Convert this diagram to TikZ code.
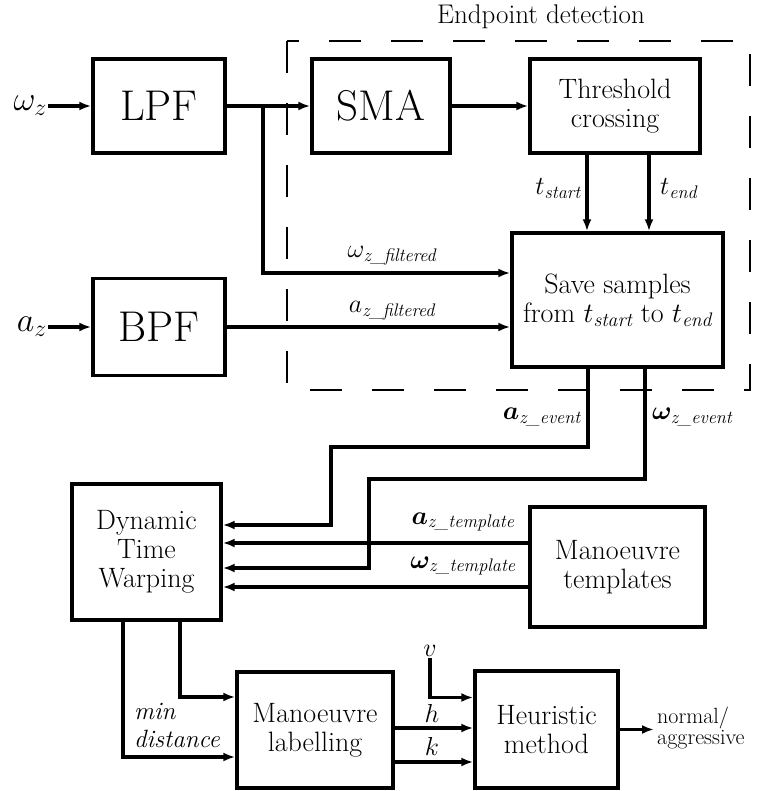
\RequirePackage{fix-cm}
\documentclass[tikz,border=0pt]{standalone}
\usepackage{amsmath}
\usepackage{bm}
\usetikzlibrary{arrows.meta}
\newcommand{\subtxt}[1]{\text{\itshape #1}}
\begin{document}
\begin{tikzpicture}[x=1pt,y=-1pt,
  box/.style={draw, line width=3.4pt, align=center, inner sep=0pt, font=\fontsize{28}{29}\selectfont},
  bigtext/.style={font=\fontsize{43}{46}\selectfont},
  arr/.style={line width=3.2pt, -{Latex[length=12pt,width=9pt]}},
  lbl/.style={font=\fontsize{26}{28}\selectfont, inner sep=1pt},
  inlbl/.style={font=\fontsize{34}{36}\selectfont, inner sep=1pt}]
\useasboundingbox (0,0) rectangle (758,791);

% dashed region
\draw[line width=2pt, dash pattern=on 32pt off 30pt] (287,41) rectangle (750,390);
\node[font=\fontsize{27}{29}\selectfont] (ep) at (541,17) {Endpoint detection};

% boxes
\node[box, bigtext, minimum width=132pt, minimum height=94pt] (LPF) at (159,106) {LPF};
\node[box, bigtext, minimum width=132pt, minimum height=97pt] (BPF) at (159,327) {BPF};
\node[box, bigtext, minimum width=138pt, minimum height=94pt] (SMA) at (381,106) {SMA};
\node[box, minimum width=170pt, minimum height=94pt] (Thr) at (615,106) {Threshold\\crossing};
\node[box, minimum width=211pt, minimum height=134pt] (Save) at (617.5,300) {Save samples\\from $t_{\subtxt{start}}$ to $t_{\subtxt{end}}$};
\node[box, minimum width=149pt, minimum height=136pt] (DTW) at (146.5,552) {Dynamic\\Time\\Warping};
\node[box, minimum width=175pt, minimum height=120pt] (Tmpl) at (617.5,567) {Manoeuvre\\templates};
\node[box, minimum width=156pt, minimum height=116pt] (Lab) at (315,730) {Manoeuvre\\labelling};
\node[box, minimum width=143pt, minimum height=117pt] (Heur) at (546.5,729.5) {Heuristic\\method};

% inputs
\coordinate (wzin) at (48,106);
\coordinate (azin) at (48,327);
\node[inlbl, anchor=east] (wzl) at (wzin) {$\omega_z$};
\node[inlbl, anchor=east] (azl) at (azin) {$a_z$};
\draw[arr] (wzin) -- (LPF.west);
\draw[arr] (azin) -- (BPF.west);

% top chain
\draw[arr] (LPF.east) -- (SMA.west);
\draw[arr] (SMA.east) -- (Thr.west);
\coordinate (br) at (263,106);
\draw[arr] (br) |- ([yshift=27pt]Save.west);
\draw[arr] (BPF.east) -- (BPF.east -| Save.west);
\node[lbl] (wfl) at (392,256) {$\omega_{\subtxt{z\_filtered}}$};
\node[lbl] (afl) at (392,311) {$a_{\subtxt{z\_filtered}}$};

% t_start / t_end
\draw[arr] ([xshift=-28pt]Thr.south) -- ([xshift=-28pt]Thr.south |- Save.north);
\draw[arr] ([xshift=34pt]Thr.south) -- ([xshift=34pt]Thr.south |- Save.north);
\node[lbl, anchor=east] (tsl) at (582,189) {$t_{\subtxt{start}}$};
\node[lbl, anchor=west] (tel) at (659,189) {$t_{\subtxt{end}}$};

% events to DTW
\coordinate (j1) at (331,447);
\coordinate (j2) at (369,479);
\draw[arr] ([xshift=-29.5pt]Save.south) |- (j1) |- ([yshift=27pt]DTW.east);
\draw[arr] ([xshift=27.5pt]Save.south) |- (j2) |- ([yshift=-16pt]DTW.east);
\node[lbl, anchor=east] (ael) at (582,417) {$\bm{a}_{\subtxt{z\_event}}$};
\node[lbl, anchor=west] (wel) at (651,417) {$\bm{\omega}_{\subtxt{z\_event}}$};

% templates to DTW
\draw[arr] ([yshift=24pt]Tmpl.west) -- ([yshift=24pt]Tmpl.west -| DTW.east);
\draw[arr] ([yshift=-20pt]Tmpl.west) -- ([yshift=-20pt]Tmpl.west -| DTW.east);
\node[lbl] (atl) at (463,522) {$\bm{a}_{\subtxt{z\_template}}$};
\node[lbl] (wtl) at (463,566) {$\bm{\omega}_{\subtxt{z\_template}}$};

% DTW to labelling
\draw[arr] ([xshift=33.5pt]DTW.south) |- ([yshift=33pt]Lab.west);
\draw[arr] ([xshift=-23.5pt]DTW.south) |- ([yshift=-27pt]Lab.west);
\node[lbl, anchor=west, align=left, font=\fontsize{25}{28}\selectfont\itshape] (mdl) at (133,725) {min\\distance};

% labelling to heuristic
\draw[arr] ([yshift=2pt]Lab.east) -- ([yshift=2pt]Lab.east -| Heur.west);
\draw[arr] ([yshift=-32pt]Lab.east) -- ([yshift=-32pt]Lab.east -| Heur.west);
\node[lbl] (hl) at (432,713) {$h$};
\node[lbl] (kl) at (432,746) {$k$};

% v input
\coordinate (vtop) at (430,658);
\node[lbl, anchor=south] (vl) at (vtop) {$v$};
\draw[arr] (vtop) |- ([yshift=32pt]Heur.west);

% output
\coordinate (out) at (654,729.5);
\draw[arr] (Heur.east) -- (out);
\node[anchor=west, align=left, inner sep=1pt, font=\fontsize{22}{21}\selectfont] (outl) at (656,728) {normal/\\aggressive};
\end{tikzpicture}
\end{document}
